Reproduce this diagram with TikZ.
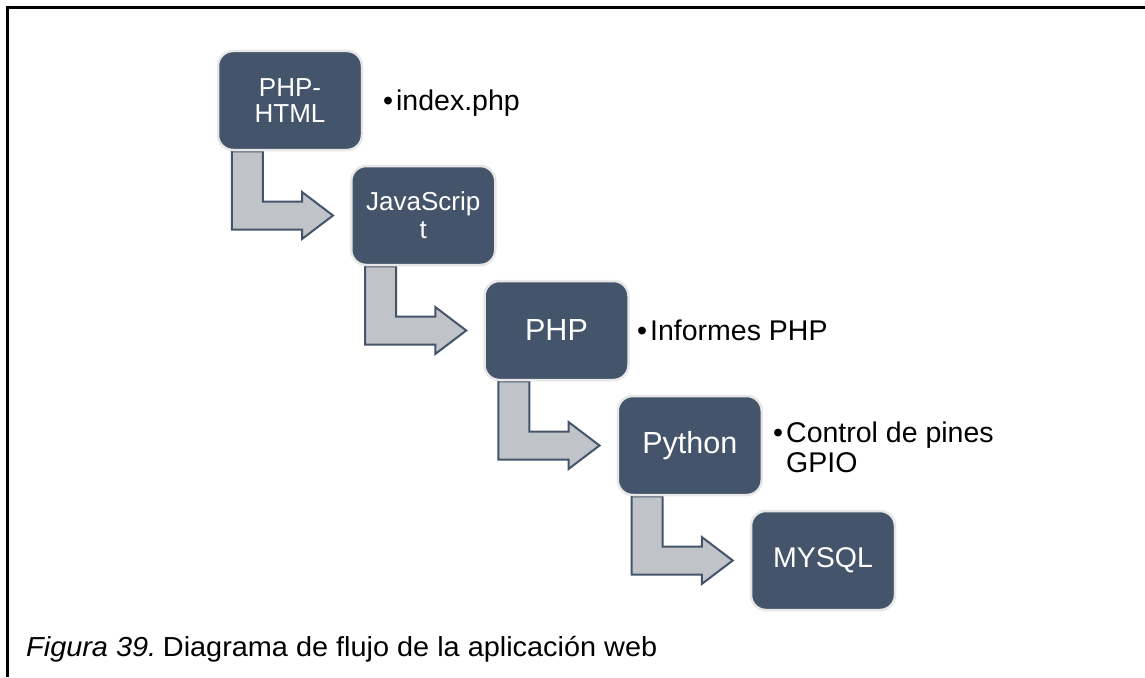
\documentclass[tikz,border=0pt]{standalone}
\usepackage{fontspec}
\setmainfont{Liberation Sans}
\newfontfamily\capfont[FakeStretch=1.05]{Liberation Sans}
\usetikzlibrary{calc,backgrounds}
\definecolor{boxfill}{HTML}{44546A}
\definecolor{boxline}{HTML}{E7E7E7}
\definecolor{arrfill}{HTML}{C0C4C9}
\tikzset{
  stage/.style={draw=boxline, line width=2.5pt, fill=boxfill, rounded corners=15pt,
    minimum width=144pt, minimum height=99pt, inner sep=0pt, text=white, align=center},
  bent/.style={draw=boxfill, fill=arrfill, line width=2pt, line join=miter},
  note/.style={anchor=base west, inner sep=0pt, font=\fontsize{28.5}{30}\selectfont, align=left},
  frame/.style={line width=2.5pt, draw=black},
}
\newcommand{\bentarrow}[2]{%
  \path ($(#1.south west)+(15,0)$) coordinate (s1)
        ($(#1.south west)+(46,0)$) coordinate (s2)
        ($(#2.west)+(-48,-14)$) coordinate (hbt)
        ($(#2.west)+(-48,14)$) coordinate (hbb)
        ($(#2.west)+(-48,-23.5)$) coordinate (hht)
        ($(#2.west)+(-48,23.5)$) coordinate (hhb)
        ($(#2.west)+(-17,0)$) coordinate (tip);
  \draw[bent] (s1) -- (s2) -- (s2 |- hbt) -- (hbt) -- (hht) -- (tip) -- (hhb) -- (hbb) -- (s1 |- hbb) -- cycle;
}
\begin{document}
\begin{tikzpicture}[x=1pt,y=-1pt]
\useasboundingbox (0,0) rectangle (1145,677);
\draw[frame] (7.5,677) -- (7.5,7.5) -- (1145,7.5);

\node[stage, font=\fontsize{26}{26}\selectfont] (b1) at (290,100.5) {PHP-\\HTML};
\node[stage, font=\fontsize{26}{28}\selectfont] (b2) at (423.25,215.5) {JavaScrip\\t};
\node[stage, font=\fontsize{30.5}{32}\selectfont] (b3) at (556.5,330.5) {PHP};
\node[stage, font=\fontsize{30.5}{32}\selectfont] (b4) at (689.75,445.5) {Python};
\node[stage, font=\fontsize{28.5}{30}\selectfont] (b5) at (823,560.5) {MYSQL};

\begin{scope}[on background layer]
\bentarrow{b1}{b2}
\bentarrow{b2}{b3}
\bentarrow{b3}{b4}
\bentarrow{b4}{b5}
\end{scope}

\node[note] (n1) at (383,110) {•\kern3pt index.php};
\node[note] (n3) at (637,340) {•\kern3pt Informes PHP};
\node[note] (n4) at (773,472) {•\kern3pt Control de pines\\\phantom{•}\kern3pt GPIO};

\node[anchor=base west, inner sep=0pt, font=\capfont\fontsize{27.5}{29}\selectfont] (cap) at (26,656)
  {{\itshape Figura 39.}\kern-4pt{} Diagrama de flujo de la aplicación web};
\end{tikzpicture}
\end{document}
